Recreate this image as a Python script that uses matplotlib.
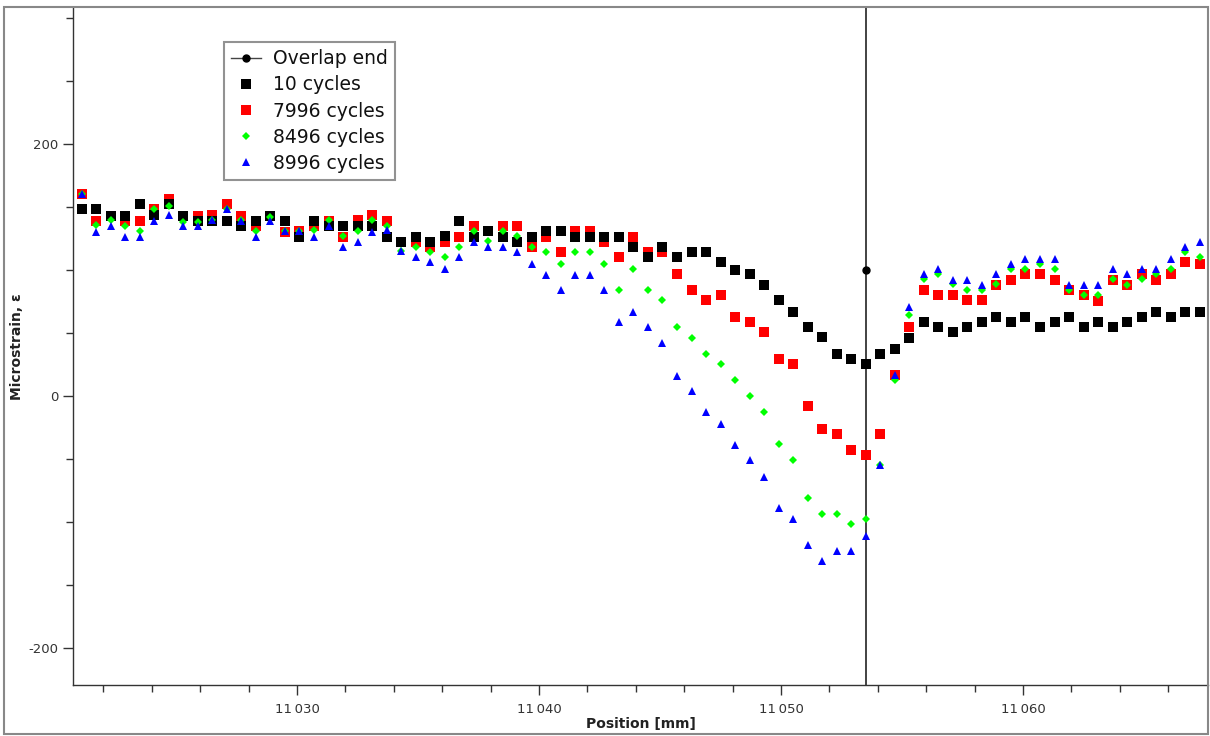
import matplotlib
matplotlib.use("Agg")
import matplotlib.pyplot as plt
from matplotlib.ticker import MultipleLocator, FuncFormatter
from matplotlib.lines import Line2D
from matplotlib.patches import Rectangle
import numpy as np

# fibre gauge positions, 0.6 mm pitch
position = 11021.1 + 0.6 * np.arange(78)
overlap_end = 11053.5
overlap_end_strain = 100

cycles_10 = [148, 148, 143, 143, 152, 144, 152, 143, 139, 139,
             139, 135, 139, 143, 139, 126, 139, 135, 135, 135,
             135, 126, 122, 126, 122, 127, 139, 126, 131, 126,
             122, 126, 131, 131, 126, 126, 126, 126, 118, 110,
             118, 110, 114, 114, 106, 100, 97, 88, 76, 67,
             55, 47, 33, 29, 25, 33, 37, 46, 59, 55,
             51, 55, 59, 63, 59, 63, 55, 59, 63, 55,
             59, 55, 59, 63, 67, 63, 67, 67]
cycles_7996 = [160, 139, 143, 139, 139, 148, 156, 143, 143, 144,
               152, 143, 135, 143, 130, 131, 135, 139, 126, 140,
               144, 139, 122, 122, 118, 122, 126, 135, 131, 135,
               135, 118, 126, 114, 131, 131, 122, 110, 126, 114,
               114, 97, 84, 76, 80, 63, 59, 51, 29, 25,
               -8, -26, -30, -43, -47, -30, 17, 55, 84, 80,
               80, 76, 76, 88, 92, 97, 97, 92, 84, 80,
               75, 92, 88, 97, 92, 97, 106, 105]
cycles_8496 = [160, 136, 140, 135, 131, 148, 151, 138, 138, 140,
               148, 140, 131, 142, 131, 131, 132, 140, 127, 131,
               140, 135, 115, 118, 114, 110, 118, 131, 123, 131,
               127, 118, 114, 105, 114, 114, 105, 84, 101, 84,
               76, 55, 46, 33, 25, 13, 0, -13, -38, -51,
               -81, -94, -94, -102, -98, -55, 13, 64, 93, 97,
               89, 84, 84, 89, 101, 101, 105, 101, 84, 80,
               80, 93, 88, 93, 97, 101, 114, 110]
cycles_8996 = [160, 130, 135, 126, 126, 139, 144, 135, 135, 140,
               148, 139, 126, 139, 131, 131, 126, 135, 118, 122,
               130, 132, 115, 110, 106, 101, 110, 122, 118, 118,
               114, 105, 96, 84, 96, 96, 84, 59, 67, 55,
               42, 16, 4, -13, -22, -39, -51, -64, -89, -98,
               -118, -131, -123, -123, -111, -55, 17, 71, 97, 101,
               92, 92, 88, 97, 105, 109, 109, 109, 88, 88,
               88, 101, 97, 101, 101, 109, 118, 122]


def thin_thousands(v, pos):
    v = int(round(v))
    s = str(abs(v))
    if len(s) > 3:
        s = s[:-3] + "\u2009" + s[-3:]
    return ("-" if v < 0 else "") + s


fig = plt.figure(figsize=(12.1, 7.36), dpi=100)
ax = fig.add_axes([0.0603, 0.0693, 0.938, 0.9198])

sq = 6.7
ax.plot(position, cycles_7996, ls="none", marker="s", ms=sq, mew=0, color="#ff0000", zorder=3)
ax.plot(position, cycles_10, ls="none", marker="s", ms=sq, mew=0, color="#000000", zorder=4)
ax.plot(position, cycles_8496, ls="none", marker="D", ms=3.6, mew=0, color="#00ff00", zorder=5)
ax.plot(position, cycles_8996, ls="none", marker="^", ms=5.3, mew=0, color="#0000ff", zorder=6)

ax.axvline(overlap_end, color="#222222", lw=1.2, zorder=2)
ax.plot([overlap_end], [overlap_end_strain], ls="none", marker="o", ms=5, color="black", zorder=7)

ax.set_xlim(11020.74, 11067.64)
ax.set_ylim(-229.4, 307.9)

ax.xaxis.set_major_locator(MultipleLocator(10))
ax.xaxis.set_minor_locator(MultipleLocator(2))
ax.yaxis.set_major_locator(MultipleLocator(200))
ax.yaxis.set_minor_locator(MultipleLocator(50))
ax.xaxis.set_major_formatter(FuncFormatter(thin_thousands))
ax.yaxis.set_major_formatter(FuncFormatter(thin_thousands))

for side in ["top", "right"]:
    ax.spines[side].set_visible(False)
for side in ["left", "bottom"]:
    ax.spines[side].set_color("#333333")
    ax.spines[side].set_linewidth(1.0)

ax.tick_params(which="major", direction="out", length=7, width=1, color="#333333",
               labelsize=9.5, labelcolor="#333333")
ax.tick_params(which="minor", direction="out", length=5, width=1, color="#333333")
ax.tick_params(axis="x", pad=6)

ax.set_xlabel("Position [mm]", fontsize=10, fontweight="bold", color="#222222", labelpad=1)
ax.set_ylabel("Microstrain, \u03b5", fontsize=10, fontweight="bold", color="#222222")
ax.yaxis.set_label_coords(-0.043, 0.5)

handles = [
    Line2D([], [], color="#444444", lw=1, marker="o", ms=5, mfc="black", mec="black"),
    Line2D([], [], ls="none", marker="s", ms=sq, mew=0, color="#000000"),
    Line2D([], [], ls="none", marker="s", ms=sq, mew=0, color="#ff0000"),
    Line2D([], [], ls="none", marker="D", ms=3.6, mew=0, color="#00ff00"),
    Line2D([], [], ls="none", marker="^", ms=5.3, mew=0, color="#0000ff"),
]
labels = ["Overlap end", "10 cycles", "7996 cycles", "8496 cycles", "8996 cycles"]
leg = ax.legend(handles, labels, loc="upper left", bbox_to_anchor=(0.133, 0.95),
                fontsize=13.5, frameon=True, fancybox=False, numpoints=1,
                handlelength=1.6, handletextpad=0.6, labelspacing=0.38,
                borderpad=0.4, borderaxespad=0)
leg.get_frame().set_edgecolor("#777777")
leg.get_frame().set_linewidth(1.5)
for t in leg.get_texts():
    t.set_color("#111111")

fig.patches.append(Rectangle((0.003, 0.003), 0.995, 0.987, transform=fig.transFigure,
                             fill=False, edgecolor="#888888", lw=1.5))

fig.savefig("out.png", dpi=100)
